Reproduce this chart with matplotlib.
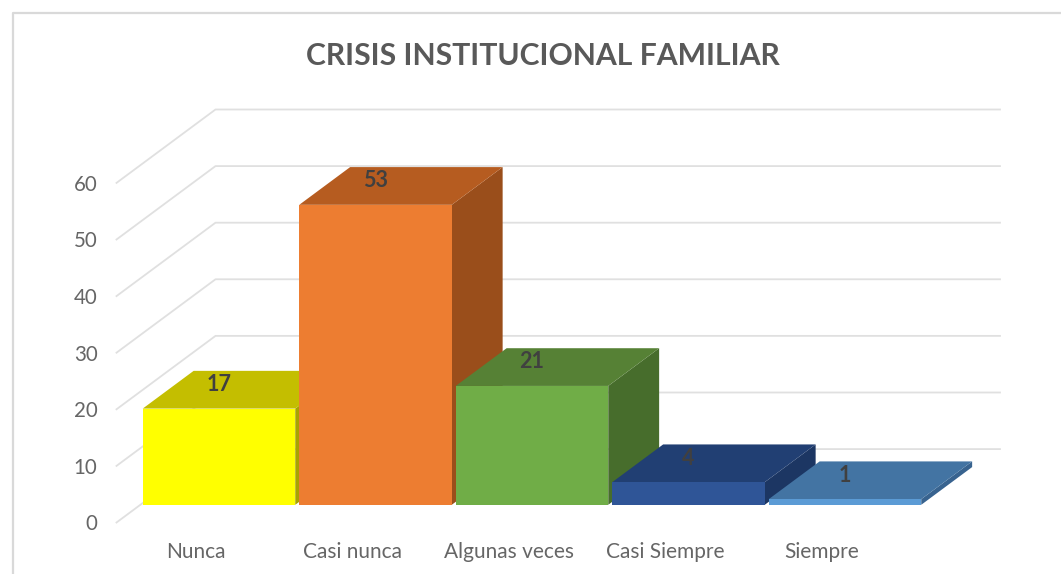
import matplotlib
matplotlib.use("Agg")
import matplotlib.pyplot as plt
from matplotlib.patches import Polygon

plt.rcParams["font.family"] = ["Lato", "DejaVu Sans"]

categories = ["Nunca", "Casi nunca", "Algunas veces", "Casi Siempre", "Siempre"]
values = [17, 53, 21, 4, 1]
y_ticks = [0, 10, 20, 30, 40, 50, 60]
title = "CRISIS INSTITUCIONAL FAMILIAR"
front_colors = ["#FFFF00", "#ED7D31", "#70AD47", "#2F5597", "#5B9BD5"]
top_colors = ["#C4BE00", "#B65C20", "#568135", "#213F73", "#4374A3"]
side_colors = ["#A8A300", "#9A4E1B", "#476D2C", "#1C3663", "#38638F"]

W, H = 1061, 574
PITCH = 156.5
UNIT = 5.66
X0, Y0 = 219.0, 504.8   # pixel of first category centre at value 0 on bar front
DX, DY = 99 / PITCH, 73.4 / UNIT  # full depth of the floor, in data units
BAR_W = 152.5 / PITCH
D_FRONT, D_BACK = 0.241, 0.755

fig = plt.figure(figsize=(W / 100, H / 100), dpi=100)
ax = fig.add_axes([0, 0, 1, 1])
ax.set_xlim(-X0 / PITCH, (W - X0) / PITCH)
ax.set_ylim((Y0 - H) / UNIT, Y0 / UNIT)
ax.axis("off")


def proj(x, v, d):
    """Project a (category, value, depth) point onto the axes."""
    return x + (d - D_FRONT) * DX, v + (d - D_FRONT) * DY


# chart frame
ax.plot([12.5 / W, 12.5 / W, 1], [0, 1 - 13 / H, 1 - 13 / H],
        transform=ax.transAxes, color="#D9D9D9", lw=1.6, clip_on=False)

# walls and gridlines
x_left = (116.5 + D_FRONT * 99 - X0) / PITCH
x_right = (901 + D_FRONT * 99 - X0) / PITCH
grid = "#E0E0E0"
for t in y_ticks:
    a = proj(x_left, t, 0)
    b = proj(x_left, t, 1)
    c = proj(x_right, t, 1)
    ax.plot([a[0], b[0], c[0]], [a[1], b[1], c[1]], color=grid, lw=1.3, zorder=1)
    ax.text(a[0] - 19 / PITCH, a[1] - 2 / UNIT, str(t), ha="right", va="center",
            fontsize=14.8, color="#666666")

# bars
for i, (v, f, tc, sc, name) in enumerate(zip(values, front_colors, top_colors,
                                             side_colors, categories)):
    l, r = i - BAR_W / 2, i + BAR_W / 2
    z = 3 + i
    ax.add_patch(Polygon([proj(r, 0, D_FRONT), proj(r, 0, D_BACK),
                          proj(r, v, D_BACK), proj(r, v, D_FRONT)],
                         fc=sc, ec="none", zorder=z))
    ax.add_patch(Polygon([proj(l, v, D_FRONT), proj(r, v, D_FRONT),
                          proj(r, v, D_BACK), proj(l, v, D_BACK)],
                         fc=tc, ec="none", zorder=z))
    ax.add_patch(Polygon([proj(l, 0, D_FRONT), proj(r, 0, D_FRONT),
                          proj(r, v, D_FRONT), proj(l, v, D_FRONT)],
                         fc=f, ec="none", zorder=z))
    ax.text(i, v + 24 / UNIT, str(v), ha="center", va="center", fontsize=15.5,
            fontweight="bold", color="#404040", zorder=20)
    ax.text(i - 23 / PITCH, (Y0 - 551.5) / UNIT, name,
            ha="center", va="center", fontsize=15, color="#666666")

ax.text((543 - X0) / PITCH, (Y0 - 56) / UNIT, title, ha="center", va="center",
        fontsize=21.7, fontweight="bold", color="#595959")

fig.savefig("out.png", dpi=100)
